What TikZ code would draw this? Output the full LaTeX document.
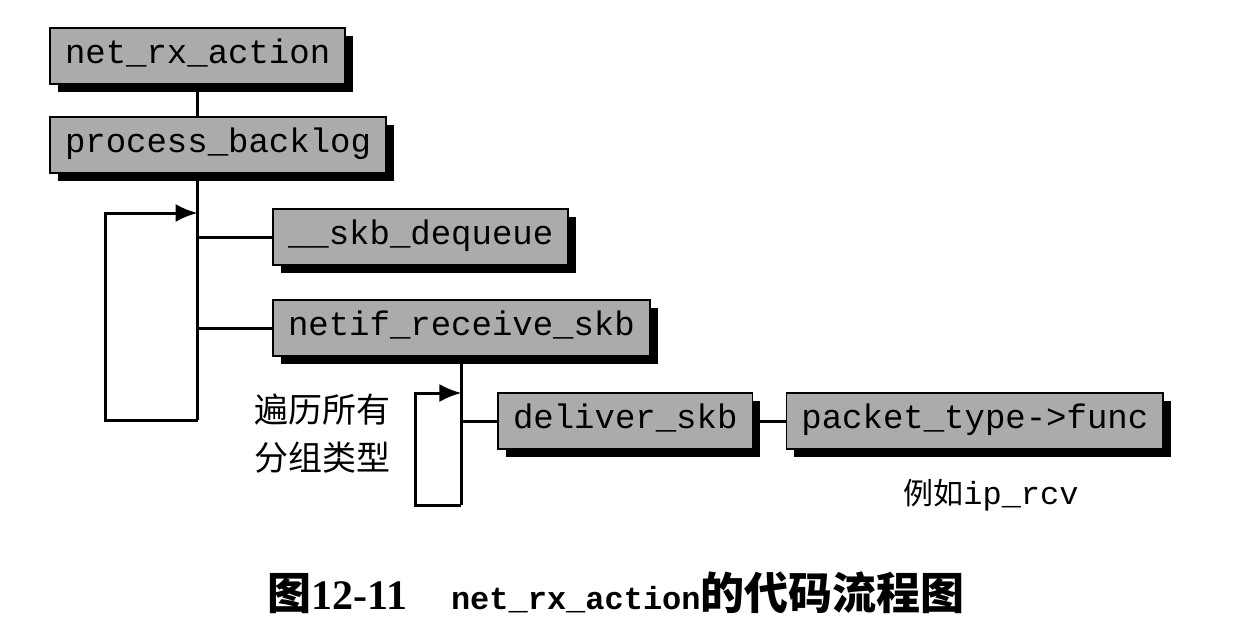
\documentclass[tikz,border=0pt]{standalone}
\usepackage{fontspec}
\setmainfont{Liberation Serif}
\setmonofont{Liberation Mono}
\newfontfamily\cjk{Noto Sans CJK SC}
\usetikzlibrary{positioning,shadows,arrows.meta}

\begin{document}
\begin{tikzpicture}
[x=0.5pt,y=-0.5pt,
 every node/.style={inner sep=0mm,outer sep=0mm},
 fn/.style={draw=black,thick,fill=black!33,anchor=north west,
   font=\ttfamily\fontsize{17}{17}\selectfont,text height=11pt,text depth=3.5pt,
   minimum height=28pt,inner xsep=7.5pt,
   drop shadow={shadow xshift=4pt,shadow yshift=-4pt,fill=black,opacity=1}},
 note/.style={font=\cjk\fontsize{17}{24}\selectfont,align=center},
 link/.style={line width=1.5pt},
 loop/.style={line width=1.5pt,line join=miter,-{Latex[length=11pt,width=9pt]}}]
\useasboundingbox (0,0) rectangle (1250,638);
\node[fn] (nra) at (50,28) {net\_rx\_action};
\node[fn] (pb)  [below=16.5pt of nra.south west,anchor=north west] {process\_backlog};
\node[fn] (dq)  [below right=18pt and 111.5pt of pb.south west] {\_\_skb\_dequeue};
\node[fn] (nrs) [below=17.5pt of dq.south west,anchor=north west] {netif\_receive\_skb};
\node[fn] (ds)  [below right=18.5pt and 112.5pt of nrs.south west] {deliver\_skb};
\node[fn] (ptf) [right=17pt of ds,anchor=west] {packet\_type->func};
\node[note] (all) at (322,434) {遍历所有\\分组类型};
\node (eg) at (991,495) {{\cjk\fontsize{15}{15}\selectfont 例如}{\ttfamily\fontsize{16}{16}\selectfont ip\_rcv}};
\node (cap) at (616,593) {{\cjk\bfseries\fontsize{22}{22}\selectfont 图}{\bfseries\fontsize{21}{21}\selectfont 12-11}\hspace{22pt}{\ttfamily\bfseries\fontsize{16}{16}\selectfont net\_rx\_action}{\cjk\bfseries\fontsize{22}{22}\selectfont 的代码流程图}};
% outer loop
\coordinate (b1) at (105,420);
\coordinate (l1) at (105,213);
\coordinate (s1) at (nra.south |- pb.south);
\coordinate (t1) at (nra.south |- b1);
\coordinate (a1) at (nra.south |- l1);
\draw[link] (nra.south) -- (nra.south |- pb.north);
\draw[link] (s1) -- (t1);
\draw[loop] (t1) -- (b1) -- (l1) -- (a1);
\draw[link] (nra.south |- dq.west) -- (dq.west);
\draw[link] (nra.south |- nrs.west) -- (nrs.west);
% inner loop
\coordinate (b2) at (415,505);
\coordinate (l2) at (415,393);
\coordinate (t2) at (nrs.south |- b2);
\coordinate (a2) at (nrs.south |- l2);
\draw[link] (nrs.south) -- (t2);
\draw[loop] (t2) -- (b2) -- (l2) -- (a2);
\draw[link] (nrs.south |- ds.west) -- (ds.west);
\draw[link] (ds) -- (ptf);
\end{tikzpicture}
\end{document}
